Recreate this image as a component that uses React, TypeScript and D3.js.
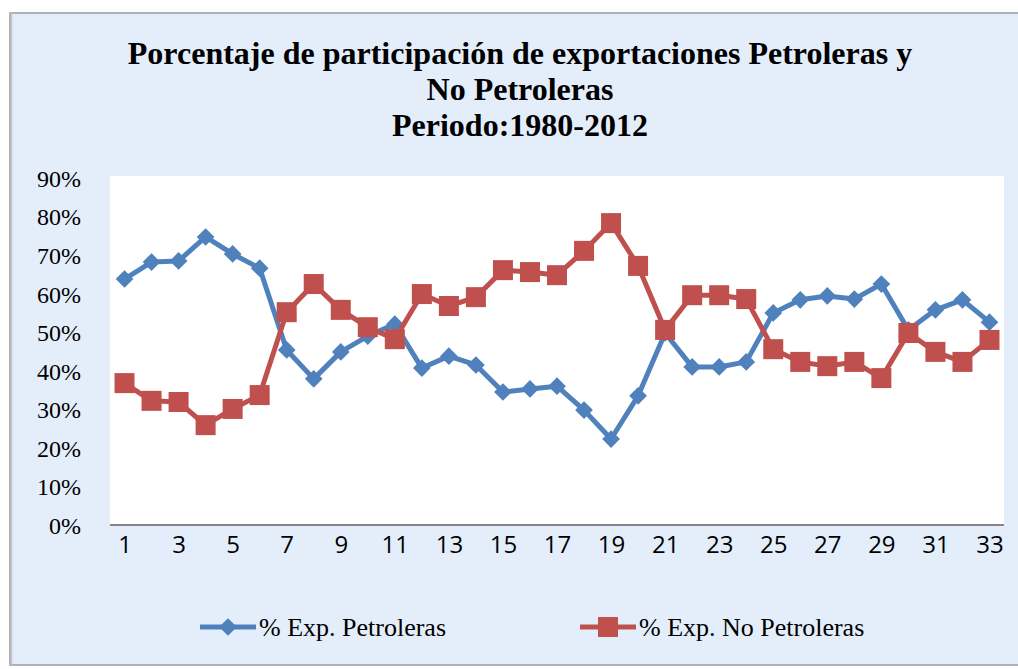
import React, { useEffect, useRef } from "react";
import * as d3 from "d3";

const periods = d3.range(1, 34);
const petroleras = [
  63.8, 68.2, 68.5, 74.7, 70.3, 66.6, 45.4, 37.9, 44.9, 49.0, 52.1, 40.7, 43.8,
  41.5, 34.5, 35.3, 36.0, 29.8, 22.3, 33.5, 49.8, 41.0, 41.0, 42.3, 55.0, 58.4,
  59.4, 58.6, 62.5, 50.6, 55.8, 58.4, 52.6,
];
const noPetroleras = [
  36.8, 32.2, 31.9, 25.9, 30.1, 33.7, 55.2, 62.5, 55.8, 51.3, 48.2, 59.9, 56.8,
  59.1, 66.1, 65.6, 64.8, 71.1, 78.3, 67.2, 50.6, 59.6, 59.6, 58.6, 45.6, 42.3,
  41.2, 42.3, 38.1, 49.8, 44.9, 42.3, 48.0,
];
const yTicks = [0, 10, 20, 30, 40, 50, 60, 70, 80, 90];
const titleLines = [
  "Porcentaje de participación de exportaciones Petroleras y",
  "No Petroleras",
  "Periodo:1980-2012",
];
const seriesNames = ["% Exp. Petroleras", "% Exp. No Petroleras"];

const W = 1018;
const H = 669;
const serif = "'Liberation Serif', 'Times New Roman', serif";

const App = () => {
  const ref = useRef<SVGSVGElement>(null);

  useEffect(() => {
    const svg = d3.select(ref.current);
    svg.selectAll("*").remove();

    const plot = { left: 111, right: 1003, top: 176, bottom: 525 };
    const blue = "#4F81BD";
    const red = "#C0504D";

    // chart area
    svg
      .append("rect")
      .attr("x", 10)
      .attr("y", 13)
      .attr("width", W + 10)
      .attr("height", 652)
      .attr("fill", "#E4EEFB")
      .attr("stroke", "#9a9a9a")
      .attr("stroke-width", 1.5);
    svg
      .append("line")
      .attr("x1", 11.5)
      .attr("x2", 11.5)
      .attr("y1", 13)
      .attr("y2", 665)
      .attr("stroke", "#c8c8c8")
      .attr("stroke-width", 1.5);

    // title
    svg
      .append("g")
      .selectAll("text")
      .data(titleLines)
      .enter()
      .append("text")
      .attr("x", 520)
      .attr("y", (d, i) => 64 + i * 36)
      .attr("text-anchor", "middle")
      .attr("font-family", serif)
      .attr("font-weight", "bold")
      .attr("font-size", 32)
      .attr("fill", "#000")
      .text((d) => d);

    // plot area
    svg
      .append("rect")
      .attr("x", plot.left - 1)
      .attr("y", plot.top)
      .attr("width", plot.right - plot.left + 2)
      .attr("height", plot.bottom - plot.top)
      .attr("fill", "#fff");

    const x = d3
      .scalePoint<number>()
      .domain(periods)
      .range([plot.left, plot.right])
      .padding(0.5);
    const y = d3.scaleLinear().domain([0, 90]).range([plot.bottom, plot.top + 2]);

    // y axis labels
    const yAxis = svg
      .append("g")
      .attr("transform", `translate(${plot.left - 27},0)`)
      .call(
        d3
          .axisLeft(y)
          .tickValues(yTicks)
          .tickSize(0)
          .tickFormat((d) => `${d}%`)
      );
    yAxis.select(".domain").remove();
    yAxis
      .selectAll("text")
      .attr("font-family", serif)
      .attr("font-size", 24)
      .attr("fill", "#000")
      .attr("dy", "0.35em");

    // x axis
    const xAxis = svg
      .append("g")
      .attr("transform", `translate(0,${plot.bottom})`)
      .call(
        d3
          .axisBottom(x)
          .tickValues(periods.filter((d) => d % 2 === 1))
          .tickSize(0)
          .tickPadding(11)
      );
    xAxis
      .select(".domain")
      .attr("d", `M${plot.left - 1},0H${plot.right + 1}`)
      .attr("stroke", "#868686")
      .attr("stroke-width", 2);
    xAxis
      .selectAll("text")
      .attr("font-family", "'Open Sans', 'Liberation Sans', sans-serif")
      .attr("font-size", 24)
      .attr("fill", "#000");

    const line = d3
      .line<number>()
      .x((d, i) => x(periods[i]) as number)
      .y((d) => y(d));

    const diamond = d3.symbol().type(d3.symbolDiamond2).size(200);

    const drawSeries = (vals: number[], color: string, kind: string) => {
      const g = svg.append("g");
      g.append("path")
        .attr("d", line(vals))
        .attr("fill", "none")
        .attr("stroke", color)
        .attr("stroke-width", 5)
        .attr("stroke-linejoin", "round");
      if (kind === "diamond") {
        g.selectAll("path.m")
          .data(vals)
          .enter()
          .append("path")
          .attr("class", "m")
          .attr("d", diamond)
          .attr("transform", (d, i) => `translate(${x(periods[i])},${y(d)})`)
          .attr("fill", color);
      } else {
        g.selectAll("rect")
          .data(vals)
          .enter()
          .append("rect")
          .attr("x", (d, i) => (x(periods[i]) as number) - 10)
          .attr("y", (d) => y(d) - 10)
          .attr("width", 20)
          .attr("height", 20)
          .attr("fill", color);
      }
    };

    drawSeries(petroleras, blue, "diamond");
    drawSeries(noPetroleras, red, "square");

    // legend
    const legend = [
      { name: seriesNames[0], color: blue, kind: "diamond", x: 200 },
      { name: seriesNames[1], color: red, kind: "square", x: 580 },
    ];
    const ly = 627;
    legend.forEach((l) => {
      const g = svg.append("g");
      g.append("line")
        .attr("x1", l.x)
        .attr("x2", l.x + 56)
        .attr("y1", ly)
        .attr("y2", ly)
        .attr("stroke", l.color)
        .attr("stroke-width", 5);
      if (l.kind === "diamond") {
        g.append("path")
          .attr("d", diamond)
          .attr("transform", `translate(${l.x + 28},${ly})`)
          .attr("fill", l.color);
      } else {
        g.append("rect")
          .attr("x", l.x + 18)
          .attr("y", ly - 10)
          .attr("width", 20)
          .attr("height", 20)
          .attr("fill", l.color);
      }
      g.append("text")
        .attr("x", l.x + 59)
        .attr("y", ly)
        .attr("dy", "0.35em")
        .attr("font-family", serif)
        .attr("font-size", 26)
        .attr("fill", "#000")
        .text(l.name);
    });
  }, []);

  return (
    <svg
      ref={ref}
      width={W}
      height={H}
      style={{ position: "absolute", left: 0, top: 0 }}
    ></svg>
  );
};

export default App;
